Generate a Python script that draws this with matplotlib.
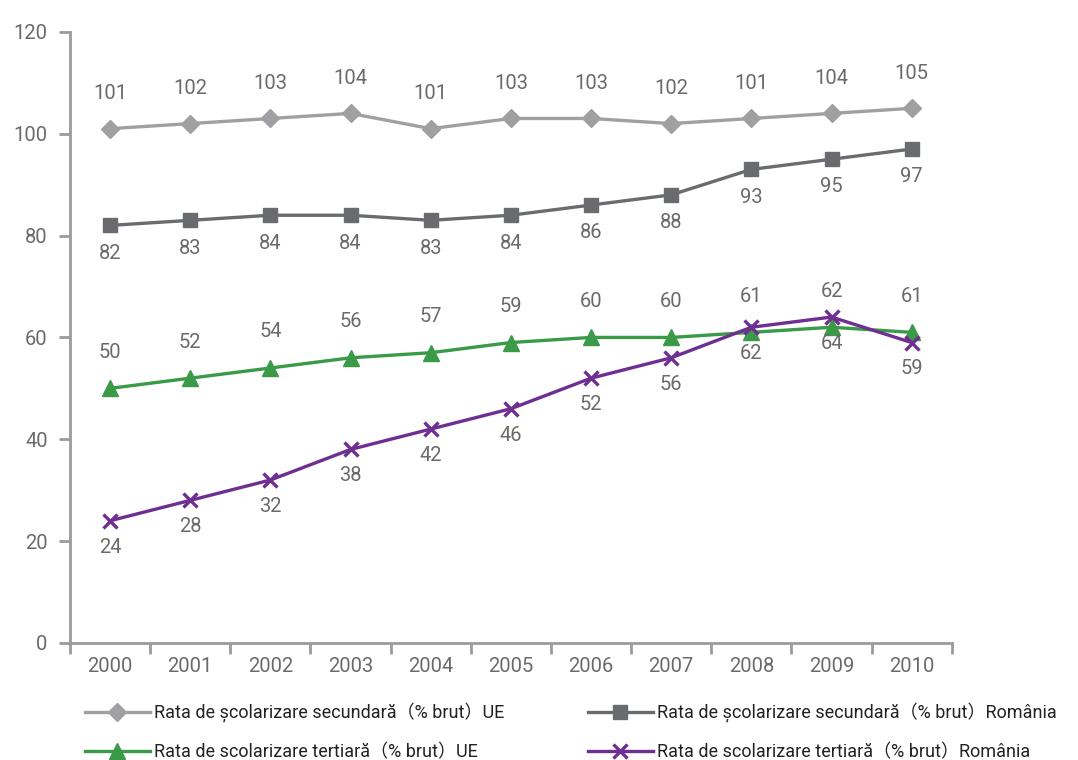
import matplotlib
matplotlib.use("Agg")
import matplotlib.pyplot as plt

years = ["2000", "2001", "2002", "2003", "2004", "2005", "2006", "2007", "2008", "2009", "2010"]

sec_ue = [101, 102, 103, 104, 101, 103, 103, 102, 103, 104, 105]
sec_ue_labels = ["101", "102", "103", "104", "101", "103", "103", "102", "101", "104", "105"]
sec_ro = [82, 83, 84, 84, 83, 84, 86, 88, 93, 95, 97]
ter_ue = [50, 52, 54, 56, 57, 59, 60, 60, 61, 62, 61]
ter_ro = [24, 28, 32, 38, 42, 46, 52, 56, 62, 64, 59]

names = ["Rata de școlarizare secundară（% brut）UE",
         "Rata de școlarizare secundară（% brut）România",
         "Rata de scolarizare tertiară（% brut）UE",
         "Rata de scolarizare tertiară（% brut）România"]

plt.rcParams['font.family'] = ['Roboto', 'DejaVu Sans', 'Noto Sans CJK SC']

C_SUE = "#a0a0a2"
C_SRO = "#6a6b6e"
C_TUE = "#3b9a48"
C_TRO = "#6f2e92"
AX = "#9b9b9e"
TXT = "#6a6a6a"

fig = plt.figure(figsize=(10.78, 7.6), dpi=100)
ax = fig.add_axes([0.0649, 0.154, 0.818, 0.804])

x = list(range(len(years)))
l1, = ax.plot(x, sec_ue, color=C_SUE, lw=2.4, marker="D", ms=9, label=names[0])
l2, = ax.plot(x, sec_ro, color=C_SRO, lw=2.4, marker="s", ms=10, label=names[1])
l3, = ax.plot(x, ter_ue, color=C_TUE, lw=2.4, marker="^", ms=11, label=names[2])
l4, = ax.plot(x, ter_ro, color=C_TRO, lw=2.4, marker="x", ms=10, mew=2.4, label=names[3])

fs = 14.5
kw = dict(textcoords="offset points", ha="center", va="center", fontsize=fs, color=TXT)
for i in x:
    ax.annotate(sec_ue_labels[i], (i, sec_ue[i]), xytext=(0, 25), **kw)
    ax.annotate(str(sec_ro[i]), (i, sec_ro[i]), xytext=(0, -20), **kw)
    ax.annotate(str(ter_ue[i]), (i, ter_ue[i]), xytext=(0, 26), **kw)
    ax.annotate(str(ter_ro[i]), (i, ter_ro[i]), xytext=(0, -19), **kw)

ax.set_xlim(-0.5, len(years) - 0.5)
ax.set_ylim(0, 120)
ax.set_yticks([0, 20, 40, 60, 80, 100, 120])
ax.set_xticks(x)
ax.set_xticklabels(years)
ax.set_xticks([i - 0.5 for i in range(len(years) + 1)], minor=True)
ax.tick_params(axis="x", which="major", length=0, pad=10, labelsize=fs, labelcolor=TXT)
ax.tick_params(axis="x", which="minor", length=8, width=2, color=AX, direction="out")
ax.tick_params(axis="y", which="major", length=8, width=2, color=AX, pad=8, labelsize=fs, labelcolor=TXT)

for s in ["top", "right"]:
    ax.spines[s].set_visible(False)
for s in ["left", "bottom"]:
    ax.spines[s].set_color(AX)
    ax.spines[s].set_linewidth(2)

leg = fig.legend(handles=[l1, l3, l2, l4], loc="lower left", bbox_to_anchor=(0.067, -0.018),
                 ncol=2, frameon=False, fontsize=13.0, labelcolor="#222222", borderpad=0.2,
                 handlelength=3.6, columnspacing=4.6, labelspacing=1.1, handletextpad=0.25)

fig.savefig("out.png", dpi=100)
